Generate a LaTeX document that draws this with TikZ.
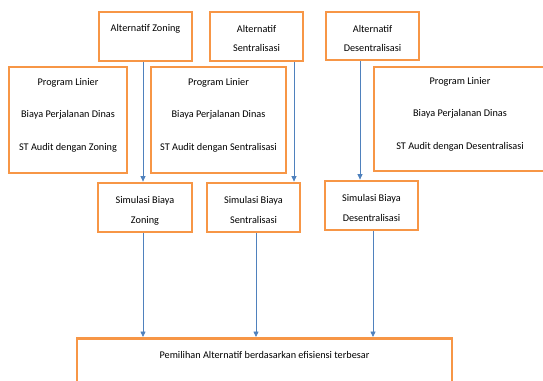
\documentclass[tikz,border=0pt]{standalone}
\usepackage{fontspec}
\setmainfont{Carlito}
\usepackage{tikz}
\usetikzlibrary{positioning,arrows.meta,calc}
\definecolor{cOr}{HTML}{F79646}
\definecolor{cBl}{HTML}{4F81BD}
\tikzset{
  kotak/.style={draw=cOr, line width=2.8pt, fill=white, align=center,
                inner sep=3pt, font=\fontsize{10.25}{19}\selectfont},
  kotakAlt/.style={kotak, minimum width=93pt, text height=31pt},
  kotakSim/.style={kotak, font=\fontsize{10.25}{20}\selectfont, minimum width=93pt,
                   minimum height=49pt, text height=33pt},
  kotakPL/.style={kotak, font=\fontsize{10.25}{32.5}\selectfont, text depth=12pt},
  ar/.style={-{Triangle[length=5.5pt,width=5pt]}, cBl, line width=0.8pt}
}
\begin{document}
\begin{tikzpicture}[x=1pt, y=-1pt]
\useasboundingbox (0,0) rectangle (543,380);
\clip (0,0) rectangle (543,380);
% alternatif
\node[kotak, minimum width=93pt, minimum height=49pt, text depth=16.6pt] (altz) at (145.5,36.5) {Alternatif Zoning};
\node[kotakAlt, minimum height=49pt] (alts) at (256.5,36.5) {Alternatif\\Sentralisasi};
\node[kotakAlt, minimum height=48pt] (altd) at (372.5,36) {Alternatif\\Desentralisasi};
% program linier
\node[kotakPL, minimum width=118pt, minimum height=106pt] (plz) at (68,120) {Program Linier\\Biaya Perjalanan Dinas\\ST Audit dengan Zoning};
\node[kotakPL, minimum width=135pt, minimum height=106pt] (pls) at (218.5,120) {Program Linier\\Biaya Perjalanan Dinas\\ST Audit dengan Sentralisasi};
\node[kotakPL, minimum width=172pt, minimum height=104pt] (pld) at (460,119) {Program Linier\\Biaya Perjalanan Dinas\\ST Audit dengan Desentralisasi};
% simulasi
\node[kotakSim, minimum width=94pt] (simz) at (145,207.5) {Simulasi Biaya\\Zoning};
\node[kotakSim] (sims) at (253.5,207.5) {Simulasi Biaya\\Sentralisasi};
\node[kotakSim, text height=32pt] (simd) at (371.5,205.5) {Simulasi Biaya\\Desentralisasi};
% pemilihan
\node[kotak, anchor=north, minimum width=375pt, inner ysep=13pt, text depth=40pt] (pilih) at (264.5,337) {Pemilihan Alternatif berdasarkan efisiensi terbesar};
% panah
\coordinate (a1) at ([xshift=-2.5pt]altz.south);
\coordinate (a2) at ([xshift=37.5pt]alts.south);
\coordinate (a3) at ([xshift=-12.5pt]altd.south);
\coordinate (b1) at ([xshift=-2pt]simz.south);
\coordinate (b2) at ([xshift=2.5pt]sims.south);
\coordinate (b3) at ([xshift=1.5pt]simd.south);
\draw[ar](a1)--(a1 |- simz.north);\draw[ar](a2)--(a2 |- sims.north);\draw[ar](a3)--(a3 |- simd.north);
\draw[ar](b1)--(b1 |- pilih.north);\draw[ar](b2)--(b2 |- pilih.north);\draw[ar](b3)--(b3 |- pilih.north);
\end{tikzpicture}
\end{document}
